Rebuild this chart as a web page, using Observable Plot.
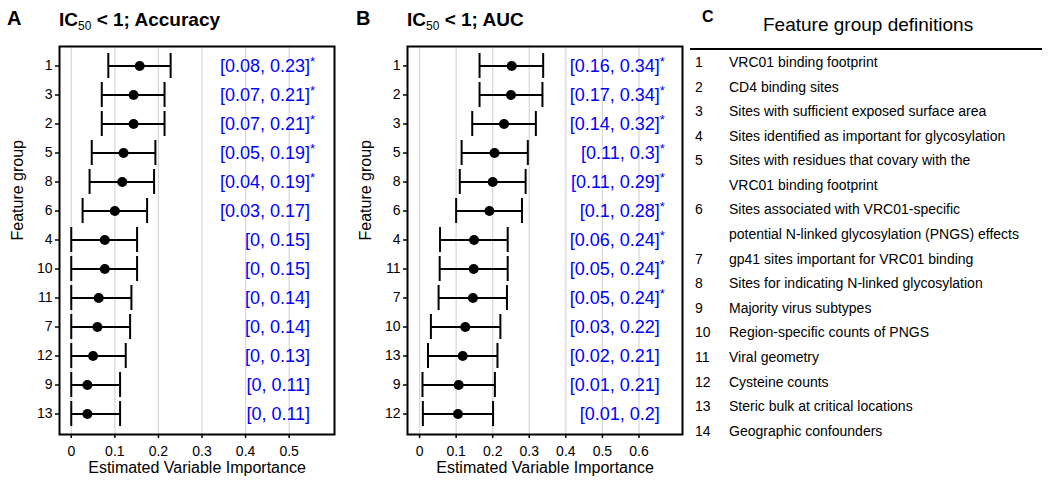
<!DOCTYPE html>
<html><head><meta charset="utf-8">
<script src="https://cdn.jsdelivr.net/npm/d3@7"></script>
<script src="https://cdn.jsdelivr.net/npm/@observablehq/plot@0.6"></script>
<style>
body{margin:0;background:#fff;font-family:"Liberation Sans",Arial,Helvetica,sans-serif;}
#wrap{position:relative;width:1050px;height:489px;overflow:hidden;background:#fff;color:#000}
.abs{position:absolute;line-height:1;white-space:nowrap}
.letter{font-weight:bold;font-size:20px}
.ptitle{font-weight:bold;font-size:19px}
.ptitle sub{font-weight:normal;font-size:12px;vertical-align:baseline;position:relative;top:4px}
.ctitle{font-size:19px}
.rule{position:absolute;left:690px;width:352px;top:48px;height:2px;background:#000}
.defs{position:absolute;top:50px;left:695px;font-size:14px;line-height:24.58px}
.defrow{display:flex;white-space:pre-line}
.defrow .n{width:34px;flex:none}
</style>
</head><body>
<div id="wrap">
  <div id="plotA" class="abs" style="left:0;top:0"></div>
  <div id="plotB" class="abs" style="left:345px;top:0"></div>
  <div class="abs letter" style="left:7px;top:8px">A</div>
  <div class="abs ptitle" style="left:59px;top:10px">IC<sub>50</sub> &lt; 1; Accuracy</div>
  <div class="abs letter" style="left:356px;top:8px">B</div>
  <div class="abs ptitle" style="left:407px;top:10px">IC<sub>50</sub> &lt; 1; AUC</div>
  <div class="abs letter" style="left:702px;top:9px;font-size:16px">C</div>
  <div class="abs ctitle" style="left:763px;top:14.5px">Feature group definitions</div>
  <div class="rule"></div>
  <div class="defs" id="defs"></div>
</div>
<script>
// Panel A: IC50 < 1; Accuracy
const groupsA = [1, 3, 2, 5, 8, 6, 4, 10, 11, 7, 12, 9, 13];
const estA = [0.157, 0.143, 0.143, 0.120, 0.117, 0.100, 0.077, 0.077, 0.063, 0.060, 0.050, 0.037, 0.037];
const lowA = [0.085, 0.070, 0.070, 0.047, 0.042, 0.026, 0, 0, 0, 0, 0, 0, 0];
const highA = [0.228, 0.214, 0.214, 0.193, 0.190, 0.174, 0.151, 0.151, 0.138, 0.135, 0.125, 0.112, 0.112];
const labelsA = ["[0.08, 0.23]", "[0.07, 0.21]", "[0.07, 0.21]", "[0.05, 0.19]", "[0.04, 0.19]", "[0.03, 0.17]",
  "[0, 0.15]", "[0, 0.15]", "[0, 0.14]", "[0, 0.14]", "[0, 0.13]", "[0, 0.11]", "[0, 0.11]"];
const sigA = [true, true, true, true, true, false, false, false, false, false, false, false, false];
const ticksA = [0, 0.1, 0.2, 0.3, 0.4, 0.5];

// Panel B: IC50 < 1; AUC
const groupsB = [1, 2, 3, 5, 8, 6, 4, 11, 7, 10, 13, 9, 12];
const estB = [0.252, 0.250, 0.231, 0.205, 0.200, 0.191, 0.149, 0.148, 0.146, 0.125, 0.118, 0.107, 0.105];
const lowB = [0.164, 0.164, 0.144, 0.115, 0.110, 0.100, 0.056, 0.055, 0.052, 0.031, 0.023, 0.008, 0.009];
const highB = [0.338, 0.336, 0.318, 0.296, 0.290, 0.280, 0.241, 0.241, 0.239, 0.221, 0.213, 0.206, 0.201];
const labelsB = ["[0.16, 0.34]", "[0.17, 0.34]", "[0.14, 0.32]", "[0.11, 0.3]", "[0.11, 0.29]", "[0.1, 0.28]",
  "[0.06, 0.24]", "[0.05, 0.24]", "[0.05, 0.24]", "[0.03, 0.22]", "[0.02, 0.21]", "[0.01, 0.21]", "[0.01, 0.2]"];
const sigB = [true, true, true, true, true, true, true, true, true, false, false, false, false];
const ticksB = [0, 0.1, 0.2, 0.3, 0.4, 0.5, 0.6];

// Panel C: definitions
const defNumbers = [1, 2, 3, 4, 5, 6, 7, 8, 9, 10, 11, 12, 13, 14];
const defTexts = [
  "VRC01 binding footprint",
  "CD4 binding sites",
  "Sites with sufficient exposed surface area",
  "Sites identified as important for glycosylation",
  "Sites with residues that covary with the\nVRC01 binding footprint",
  "Sites associated with VRC01-specific\npotential N-linked glycosylation (PNGS) effects",
  "gp41 sites important for VRC01 binding",
  "Sites for indicating N-linked glycosylation",
  "Majority virus subtypes",
  "Region-specific counts of PNGS",
  "Viral geometry",
  "Cysteine counts",
  "Steric bulk at critical locations",
  "Geographic confounders"
];

const xLabel = "Estimated Variable Importance";
const yLabel = "Feature group";

function panel({groups, est, low, high, labels, sig, ticks, xdomain, labelX, ml, mr}) {
  const data = groups.map((g, i) => ({g: String(g), est: est[i], lo: low[i], hi: high[i], label: labels[i], sig: sig[i]}));
  return Plot.plot({
    width: 345, height: 489,
    marginTop: 46, marginBottom: 55, marginLeft: ml, marginRight: mr,
    style: {fontFamily: "'Liberation Sans', Arial, sans-serif", fontSize: "14px", color: "black", background: "white"},
    x: {domain: xdomain},
    y: {type: "band", domain: data.map(d => d.g), paddingInner: 0.13, paddingOuter: 0.115},
    marks: [
      Plot.gridX(ticks, {stroke: "#d6d6d6", strokeOpacity: 1, strokeWidth: 1.2}),
      Plot.ruleY(data, {y: "g", x1: "lo", x2: "hi", stroke: "black", strokeWidth: 2}),
      Plot.tickX(data, {x: "lo", y: "g", stroke: "black", strokeWidth: 2}),
      Plot.tickX(data, {x: "hi", y: "g", stroke: "black", strokeWidth: 2}),
      Plot.dot(data, {x: "est", y: "g", r: 5, fill: "black", stroke: null}),
      Plot.text(data, {x: () => labelX, y: "g", text: "label", textAnchor: "end", fill: "#0000ff", fontSize: 18}),
      Plot.text(data.filter(d => d.sig), {x: () => labelX, y: "g", text: () => "*", textAnchor: "start", fill: "#0000ff", fontSize: 13, dy: -4}),
      Plot.frame({stroke: "black", strokeWidth: 2}),
      Plot.axisY({tickSize: 4, tickPadding: 3, fontSize: 14, label: null, strokeWidth: 1.5}),
      Plot.axisX({ticks, tickSize: 4, tickPadding: 7.5, fontSize: 14, label: null, strokeWidth: 1.5, tickFormat: d => String(d)}),
      Plot.text([yLabel], {text: d => d, frameAnchor: "left", dx: -42, rotate: -90, fontSize: 16}),
      Plot.text([xLabel], {text: d => d, frameAnchor: "bottom", dy: 38.7, fontSize: 16})
    ]
  });
}

document.getElementById("plotA").appendChild(panel({
  groups: groupsA, est: estA, low: lowA, high: highA, labels: labelsA, sig: sigA, ticks: ticksA,
  xdomain: [-0.027, 0.604], labelX: 0.548, ml: 59, mr: 11
}));
document.getElementById("plotB").appendChild(panel({
  groups: groupsB, est: estB, low: lowB, high: highB, labels: labelsB, sig: sigB, ticks: ticksB,
  xdomain: [-0.033, 0.719], labelX: 0.657, ml: 62, mr: 8
}));

const defs = document.getElementById("defs");
defNumbers.forEach((n, i) => {
  const row = document.createElement("div");
  row.className = "defrow";
  const a = document.createElement("div"); a.className = "n"; a.textContent = String(n);
  const b = document.createElement("div"); b.textContent = defTexts[i];
  row.appendChild(a); row.appendChild(b);
  defs.appendChild(row);
});
</script>
</body></html>
